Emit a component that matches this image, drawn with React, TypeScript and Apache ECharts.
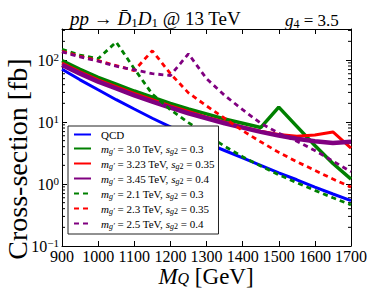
import React, { useEffect, useRef } from 'react';
import * as echarts from 'echarts';

// ---------- data (cross-section in fb) ----------
const masses = [900, 950, 1000, 1050, 1100, 1150, 1200, 1250, 1300, 1350, 1400, 1450, 1500, 1550, 1600, 1650, 1700];

const qcd = [70.8, 47.9, 33.1, 22.9, 16.2, 11.5, 8.32, 6.17, 4.57, 3.47, 2.63, 2.0, 1.51, 1.17, 0.89, 0.69, 0.54];
const g30 = [97.7, 70.8, 52.5, 40.7, 31.6, 25.1, 20.0, 16.2, 13.5, 11.2, 9.55, 8.13, 17.4, 8.51, 4.17, 2.14, 1.2];
const g323 = [89.1, 64.6, 47.9, 37.2, 28.8, 22.9, 18.2, 14.8, 12.0, 10.0, 8.32, 7.08, 6.31, 5.89, 6.17, 6.92, 3.8];
const g345 = [83.2, 60.3, 44.7, 34.7, 26.9, 21.4, 17.0, 13.8, 11.5, 9.55, 8.13, 6.92, 6.03, 5.37, 4.9, 4.57, 4.79];
const g21 = [148, 120, 105, 195, 72.4, 28.2, 15.8, 9.77, 6.31, 4.07, 2.75, 1.95, 1.41, 1.05, 0.79, 0.6, 0.46];
const g23 = [138, 115, 97.7, 81.3, 67.6, 141, 60.3, 29.5, 18.2, 11.5, 7.24, 4.79, 3.24, 2.29, 1.66, 1.2, 0.89];
const g25 = [135, 112, 95.5, 79.4, 69.2, 60.3, 56.2, 126, 50.1, 26.9, 15.8, 9.55, 6.61, 4.9, 3.47, 2.34, 1.58];

const gMass = ['3.0', '3.23', '3.45', '2.1', '2.3', '2.5'];
const sg2 = ['0.3', '0.35', '0.4', '0.3', '0.35', '0.4'];

const xMin = 900;
const xMax = 1700;
const xStep = 100;
const yMin = 0.1;
const yMax = 316.23;
const minorMantissas = [2, 3, 4, 5, 6, 7, 8, 9];
const decades = [0.1, 1, 10, 100];

const SERIF = '"Liberation Serif", "Times New Roman", serif';

export default function App() {
  const ref = useRef<HTMLDivElement>(null);

  useEffect(() => {
    document.body.style.margin = '0';
    if (!ref.current) return;
    const chart = echarts.init(ref.current, null, { renderer: 'svg' });

    const seriesDefs = [
      { key: 'QCD', data: qcd, color: '#0000ff', width: 3, dash: 'solid' },
      { key: 'g0', data: g30, color: '#008000', width: 3.5, dash: 'solid' },
      { key: 'g1', data: g323, color: '#ff0000', width: 3, dash: 'solid' },
      { key: 'g2', data: g345, color: '#800080', width: 4.5, dash: 'solid' },
      { key: 'g3', data: g21, color: '#008000', width: 2.8, dash: [5, 4] },
      { key: 'g4', data: g23, color: '#ff0000', width: 2.8, dash: [5, 4] },
      { key: 'g5', data: g25, color: '#800080', width: 2.8, dash: [5, 4] },
    ];

    const names = seriesDefs.map((s) => s.key);

    const minorVals: number[] = [];
    decades.forEach((d) => minorMantissas.forEach((m) => { const v = m * d; if (v < yMax) minorVals.push(v); }));

    const txt = { fontFamily: SERIF, color: '#000', fontWeight: 'normal' };

    const option: any = {
      animation: false,
      backgroundColor: '#fff',
      title: [
        {
          text: '{i|pp}{t| \u2192 }{i|D\u0304}{sub|1}{i|D}{sub|1}{t| @ 13 TeV}',
          left: 70, top: 7, padding: 0,
          textStyle: {
            fontWeight: 'normal',
            rich: {
              i: { ...txt, fontSize: 19, fontStyle: 'italic', lineHeight: 22 },
              t: { ...txt, fontSize: 19, lineHeight: 22 },
              sub: { ...txt, fontSize: 13, lineHeight: 12, verticalAlign: 'bottom' },
            },
          },
        },
        {
          text: '{i|g}{sub|4}{t| = 3.5}',
          left: 285, top: 10, padding: 0,
          textStyle: {
            fontWeight: 'normal',
            rich: {
              i: { ...txt, fontSize: 17, fontStyle: 'italic', lineHeight: 20 },
              t: { ...txt, fontSize: 17, lineHeight: 20 },
              sub: { ...txt, fontSize: 12, lineHeight: 10, verticalAlign: 'bottom' },
            },
          },
        },
      ],
      grid: { left: 62, right: 39, top: 29, bottom: 47, containLabel: false },
      xAxis: [
        {
          type: 'value', min: xMin, max: xMax, interval: xStep, position: 'bottom',
          axisLine: { show: true, lineStyle: { color: '#000', width: 1 } },
          axisTick: { show: true, inside: true, length: 5, lineStyle: { color: '#000' } },
          axisLabel: { ...txt, fontSize: 16, margin: 2, lineHeight: 16, formatter: (v: number) => String(v) },
          splitLine: { show: false },
        },
        {
          type: 'value', min: xMin, max: xMax, interval: xStep, position: 'top',
          axisLine: { show: true, lineStyle: { color: '#000', width: 1 } },
          axisTick: { show: true, inside: true, length: 5, lineStyle: { color: '#000' } },
          axisLabel: { show: false },
          splitLine: { show: false },
        },
      ],
      yAxis: [
        {
          type: 'log', logBase: 10, min: yMin, max: yMax, position: 'left',
          axisLine: { show: true, lineStyle: { color: '#000', width: 1 } },
          axisTick: { show: true, inside: true, length: 5, lineStyle: { color: '#000' } },
          axisLabel: {
            margin: 3,
            formatter: (v: number) => {
              const e = Math.log10(v);
              const r = Math.round(e);
              if (Math.abs(e - r) > 1e-6) return '';
              return '{b|10}{s|' + (r < 0 ? '\u2212' + -r : String(r)) + '}';
            },
            rich: {
              b: { ...txt, fontSize: 16, lineHeight: 18 },
              s: { ...txt, fontSize: 11, lineHeight: 8, verticalAlign: 'top' },
            },
          },
          splitLine: { show: false },
        },
        {
          type: 'log', logBase: 10, min: yMin, max: yMax, position: 'right',
          axisLine: { show: true, lineStyle: { color: '#000', width: 1 } },
          axisTick: { show: true, inside: true, length: 5, lineStyle: { color: '#000' } },
          axisLabel: { show: false },
          splitLine: { show: false },
        },
      ],
      legend: {
        orient: 'vertical',
        left: 68, top: 126,
        itemWidth: 17, itemHeight: 13, itemGap: 3,
        padding: [3, 4, 4, 5],
        backgroundColor: '#fff',
        borderColor: '#222', borderWidth: 1, borderRadius: 0,
        data: names,
        itemStyle: { opacity: 0 },
        formatter: (n: string) => {
          if (n === 'QCD') return '{sp| }{t|QCD}';
          const k = Number(n.slice(1));
          return '{sp| }{i|m}{si|g\u2032}{t| = ' + gMass[k] + ' TeV, }{i|s}{si|g}{s|2}{t| = ' + sg2[k] + '}';
        },
        textStyle: {
          ...txt, fontSize: 11,
          rich: {
            sp: { fontSize: 11, width: 5, lineHeight: 13 },
            t: { ...txt, fontSize: 11, lineHeight: 13 },
            i: { ...txt, fontSize: 11, fontStyle: 'italic', lineHeight: 13 },
            si: { ...txt, fontSize: 8, fontStyle: 'italic', lineHeight: 8, verticalAlign: 'bottom' },
            s: { ...txt, fontSize: 8, lineHeight: 8, verticalAlign: 'bottom' },
          },
        },
      },
      graphic: [
        {
          type: 'text', x: 17, y: 159, rotation: Math.PI / 2,
          style: {
            text: 'Cross-section [fb]', font: '28px ' + SERIF, fill: '#000',
            align: 'center', verticalAlign: 'middle', textAlign: 'center', textVerticalAlign: 'middle',
          },
        },
        {
          type: 'text', x: 206, y: 276,
          style: {
            text: '{i|M}{sub|Q}{t| [GeV]}',
            align: 'center', verticalAlign: 'middle', textAlign: 'center', textVerticalAlign: 'middle',
            rich: {
              i: { ...txt, fill: '#000', fontSize: 23, fontStyle: 'italic', lineHeight: 20 },
              t: { ...txt, fill: '#000', fontSize: 23, lineHeight: 20 },
              sub: { ...txt, fill: '#000', fontSize: 16, fontStyle: 'italic', lineHeight: 6, verticalAlign: 'bottom' },
            },
          },
        },
      ],
      series: [
        ...seriesDefs.map((s) => ({
          name: s.key,
          type: 'line',
          xAxisIndex: 0,
          yAxisIndex: 0,
          data: masses.map((m, i) => [m, s.data[i]]),
          symbol: 'none',
          showSymbol: false,
          smooth: false,
          lineStyle: { color: s.color, width: s.width, type: s.dash, cap: 'butt' },
          itemStyle: { color: s.color },
          emphasis: { disabled: true },
        })),
        {
          name: 'minorTicks',
          type: 'custom',
          xAxisIndex: 0,
          yAxisIndex: 0,
          silent: true,
          data: minorVals.map((v) => [xMin, v]),
          renderItem: (params: any, api: any) => {
            const y = api.coord([xMin, api.value(1)])[1];
            const cs = params.coordSys;
            return {
              type: 'group',
              children: [
                { type: 'line', shape: { x1: cs.x, y1: y, x2: cs.x + 3, y2: y }, style: { stroke: '#000', lineWidth: 1 } },
                { type: 'line', shape: { x1: cs.x + cs.width, y1: y, x2: cs.x + cs.width - 3, y2: y }, style: { stroke: '#000', lineWidth: 1 } },
              ],
            };
          },
        },
      ],
    };

    chart.setOption(option);
    return () => chart.dispose();
  }, []);

  return <div ref={ref} style={{ width: 390, height: 293 }} />;
}
